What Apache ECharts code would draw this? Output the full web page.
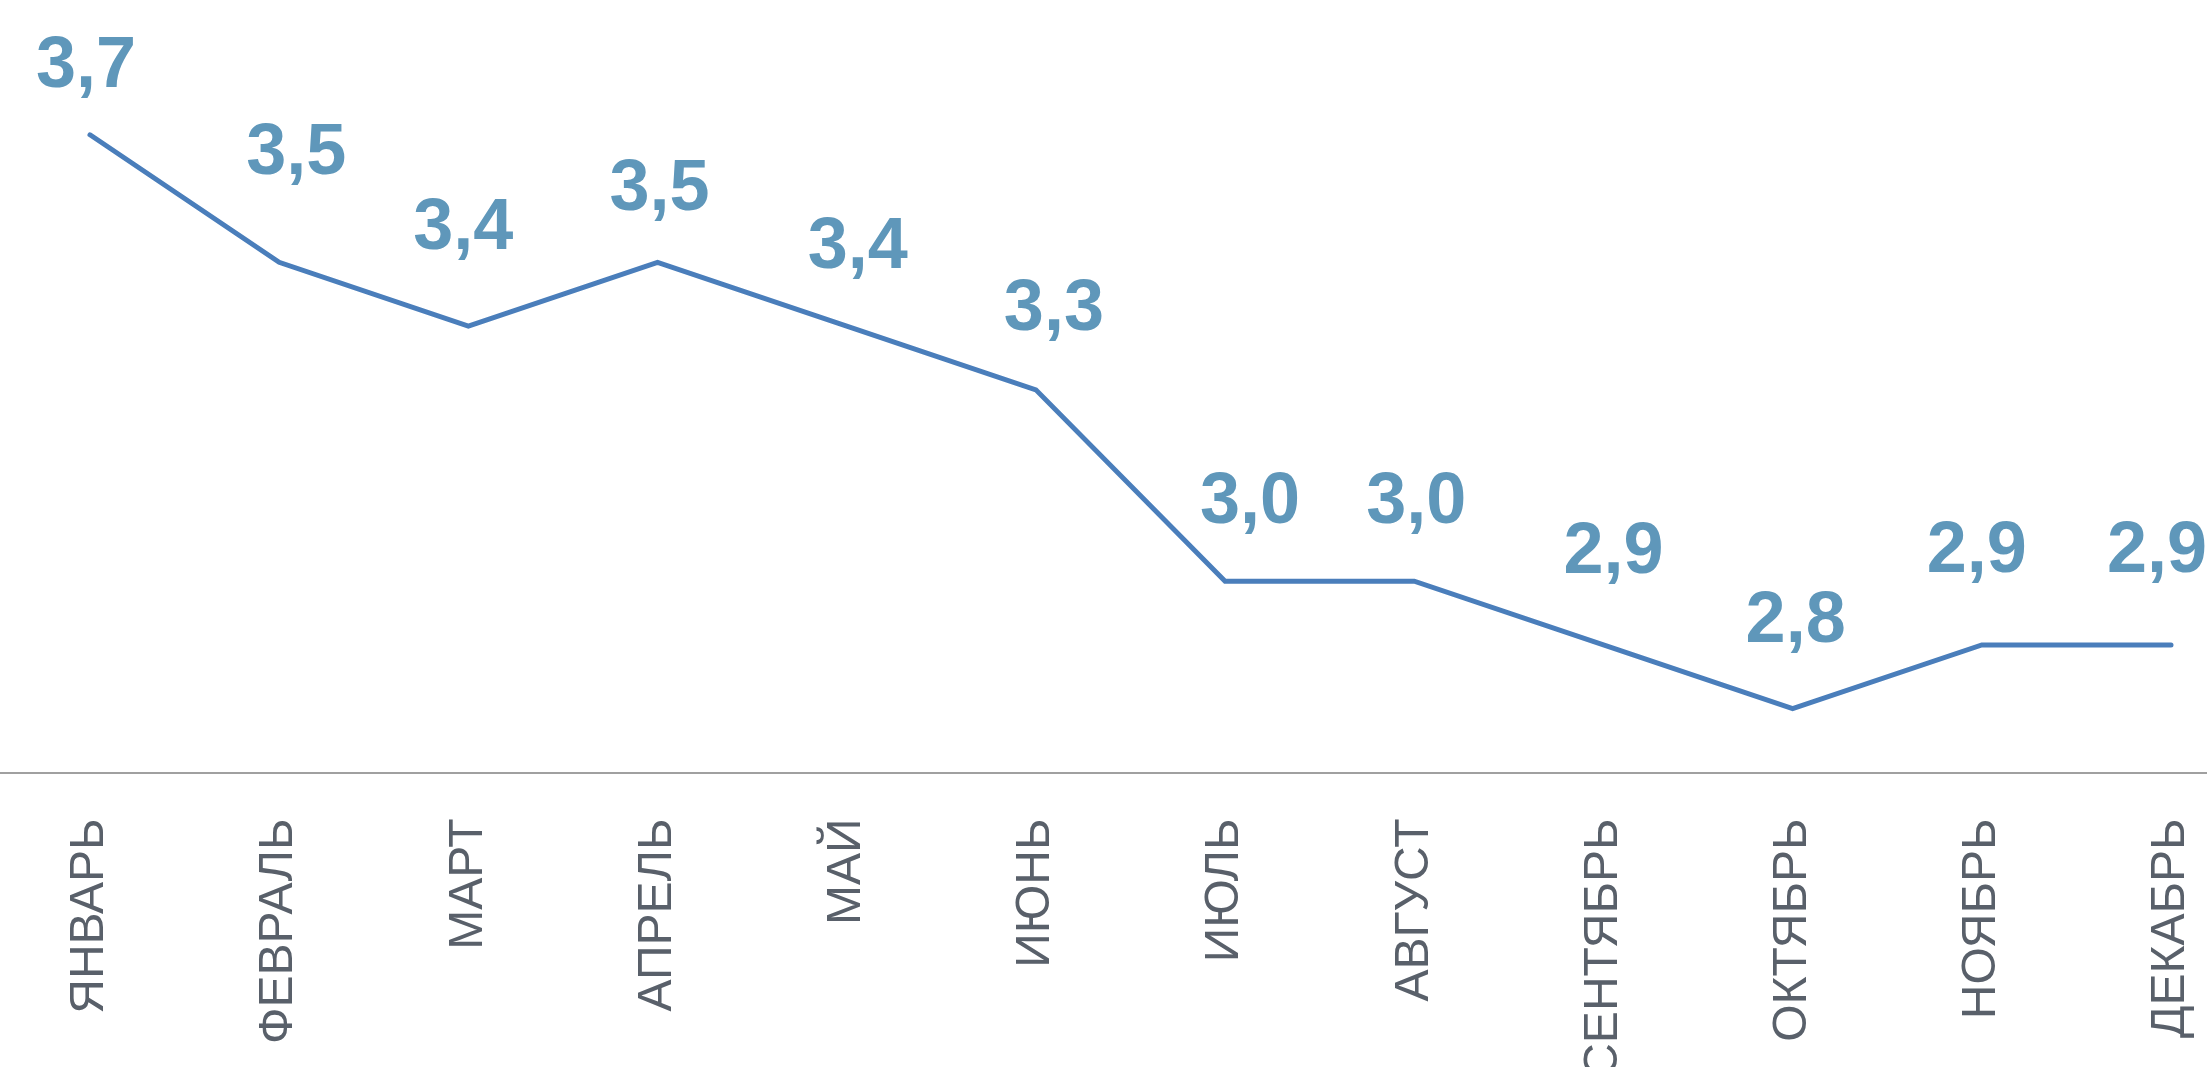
<!DOCTYPE html>
<html>
<head>
<meta charset="utf-8">
<script src="https://cdn.jsdelivr.net/npm/echarts@6/dist/echarts.min.js"></script>
<style>
html,body{margin:0;padding:0;background:#fff;}
#chart{width:2207px;height:1067px;}
</style>
</head>
<body>
<div id="chart"></div>
<script>
// Data
const months = ['ЯНВАРЬ','ФЕВРАЛЬ','МАРТ','АПРЕЛЬ','МАЙ','ИЮНЬ','ИЮЛЬ','АВГУСТ','СЕНТЯБРЬ','ОКТЯБРЬ','НОЯБРЬ','ДЕКАБРЬ'];
const values = [3.7, 3.5, 3.4, 3.5, 3.4, 3.3, 3.0, 3.0, 2.9, 2.8, 2.9, 2.9];

// Label placement nudges (styling only, as in the manually arranged original)
const labelDx = [-4, 17, -5, 2, 11, 18, 25, 2, 10, 3, -5, -14];
const labelDy = [31, 72, 60, 36, 41, 43, 42, 42, 55, 50, 56, 56];

const chart = echarts.init(document.getElementById('chart'), null, {renderer: 'canvas'});

const seriesData = values.map((v, i) => ({
  value: v,
  label: { offset: [labelDx[i], -labelDy[i]] }
}));

chart.setOption({
  animation: false,
  backgroundColor: '#ffffff',
  grid: {
    left: -4.6, width: 2270.2, top: 71, height: 701.5,
    containLabel: false,
    outerBoundsMode: 'none'
  },
  xAxis: {
    type: 'category',
    data: months,
    boundaryGap: true,
    axisLine: { show: true, lineStyle: { color: '#a0a0a0', width: 2 } },
    axisTick: { show: false },
    axisLabel: {
      rotate: 90,
      margin: 46,
      interval: 0,
      color: '#59606a',
      fontFamily: 'Liberation Sans, Arial, sans-serif',
      fontSize: 48
    },
    splitLine: { show: false }
  },
  yAxis: {
    type: 'value',
    min: 2.7,
    max: 3.8,
    show: false,
    splitLine: { show: false }
  },
  series: [{
    type: 'line',
    data: seriesData,
    symbol: 'circle',
    symbolSize: 1,
    itemStyle: { color: '#4a7ebb' },
    lineStyle: { color: '#4a7ebb', width: 5, cap: 'round', join: 'miter' },
    label: {
      show: true,
      position: 'top',
      distance: 0,
      color: '#5f97ba',
      fontFamily: 'Liberation Sans, Arial, sans-serif',
      fontWeight: 'bold',
      fontSize: 72,
      formatter: p => p.value.toFixed(1).replace('.', ',')
    }
  }]
});
</script>
</body>
</html>
